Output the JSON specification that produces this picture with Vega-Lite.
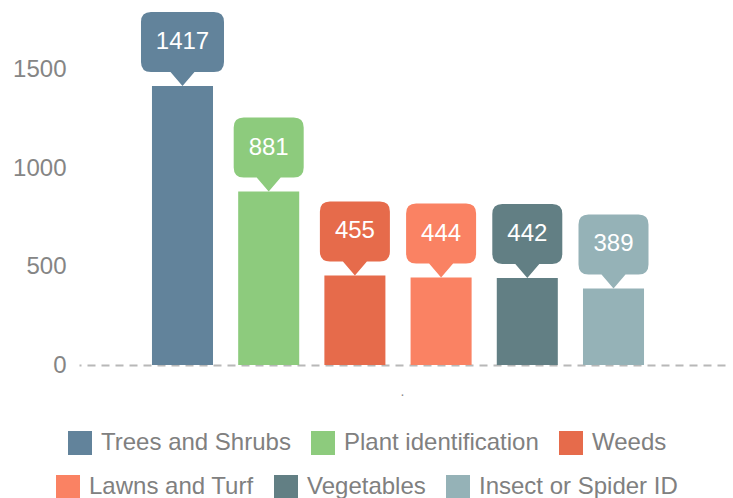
{
  "$schema": "https://vega.github.io/schema/vega-lite/v6.json",
  "autosize": {"type": "none"},
  "width": 646,
  "height": 352,
  "padding": {"left": 79, "top": 13, "right": 8, "bottom": 133},
  "config": {
    "font": "Liberation Sans",
    "view": {"stroke": null},
    "legend": {
      "title": null,
      "orient": "none",
      "direction": "horizontal",
      "columns": 3,
      "symbolType": "square",
      "symbolSize": 576,
      "symbolStrokeWidth": 0,
      "symbolOpacity": 1,
      "labelFontSize": 24,
      "labelColor": "#808080",
      "labelOffset": 9,
      "labelLimit": 400,
      "columnPadding": 20
    }
  },
  "data": {
    "values": [
      {"category": "Trees and Shrubs", "count": 1417},
      {"category": "Plant identification", "count": 881},
      {"category": "Weeds", "count": 455},
      {"category": "Lawns and Turf", "count": 444},
      {"category": "Vegetables", "count": 442},
      {"category": "Insect or Spider ID", "count": 389}
    ]
  },
  "encoding": {
    "x": {
      "field": "category",
      "type": "nominal",
      "sort": null,
      "scale": {
        "domain": ["Trees and Shrubs", "Plant identification", "Weeds", "Lawns and Turf", "Vegetables", "Insect or Spider ID"],
        "paddingInner": 0.292, "paddingOuter": 0.893, "align": 0.474
      },
      "axis": {
        "title": ".",
        "titleColor": "#888888",
        "titleFontSize": 14,
        "titleFontWeight": "normal",
        "titlePadding": 19,
        "labels": false,
        "ticks": false,
        "domainColor": "#b8b8b8",
        "domainWidth": 2,
        "domainDash": [8, 6],
        "domainDashOffset": 6
      }
    },
    "y": {
      "field": "count",
      "type": "quantitative",
      "scale": {"domain": [0, 1788], "nice": false},
      "axis": {
        "title": null,
        "values": [0, 500, 1000, 1500],
        "format": "d",
        "labelColor": "#858585",
        "labelFontSize": 24,
        "labelPadding": 13,
        "domain": false,
        "ticks": false,
        "grid": false
      }
    }
  },
  "layer": [
    {
      "transform": [{"filter": {"field": "category", "oneOf": ["Trees and Shrubs", "Plant identification", "Weeds"]}}],
      "encoding": {
        "color": {
          "field": "category",
          "type": "nominal",
          "sort": null,
          "scale": {
            "domain": ["Trees and Shrubs", "Plant identification", "Weeds"],
            "range": ["#62839B", "#8DCB7D", "#E66B4B"]
          },
          "legend": {"legendX": -11, "legendY": 418}
        }
      },
      "layer": [
        {"mark": {"type": "bar"}},
        {
          "mark": {"type": "point", "filled": true, "opacity": 1, "size": 4, "strokeWidth": 0},
          "encoding": {
            "shape": {
              "condition": {
                "test": "datum.count >= 1000",
                "value": "M0,0L-12,-14L-31.5,-14Q-41.5,-14 -41.5,-24L-41.5,-64Q-41.5,-74 -31.5,-74L31.5,-74Q41.5,-74 41.5,-64L41.5,-24Q41.5,-14 31.5,-14L12,-14Z"
              },
              "value": "M0,0L-12,-14L-25,-14Q-35,-14 -35,-24L-35,-64Q-35,-74 -25,-74L25,-74Q35,-74 35,-64L35,-24Q35,-14 25,-14L12,-14Z"
            }
          }
        }
      ]
    },
    {
      "transform": [{"filter": {"field": "category", "oneOf": ["Lawns and Turf", "Vegetables", "Insect or Spider ID"]}}],
      "encoding": {
        "color": {
          "field": "category",
          "type": "nominal",
          "sort": null,
          "scale": {
            "domain": ["Lawns and Turf", "Vegetables", "Insect or Spider ID"],
            "range": ["#FA8263", "#627F84", "#95B2B7"]
          },
          "legend": {"legendX": -23, "legendY": 462}
        }
      },
      "layer": [
        {"mark": {"type": "bar"}},
        {
          "mark": {"type": "point", "filled": true, "opacity": 1, "size": 4, "strokeWidth": 0},
          "encoding": {
            "shape": {
              "value": "M0,0L-12,-14L-25,-14Q-35,-14 -35,-24L-35,-64Q-35,-74 -25,-74L25,-74Q35,-74 35,-64L35,-24Q35,-14 25,-14L12,-14Z"
            }
          }
        }
      ]
    },
    {
      "mark": {"type": "text", "dy": -44, "baseline": "middle", "align": "center", "fontSize": 24, "color": "#ffffff"},
      "encoding": {
        "text": {"field": "count", "type": "quantitative"}
      }
    }
  ],
  "resolve": {"scale": {"color": "independent"}}
}
